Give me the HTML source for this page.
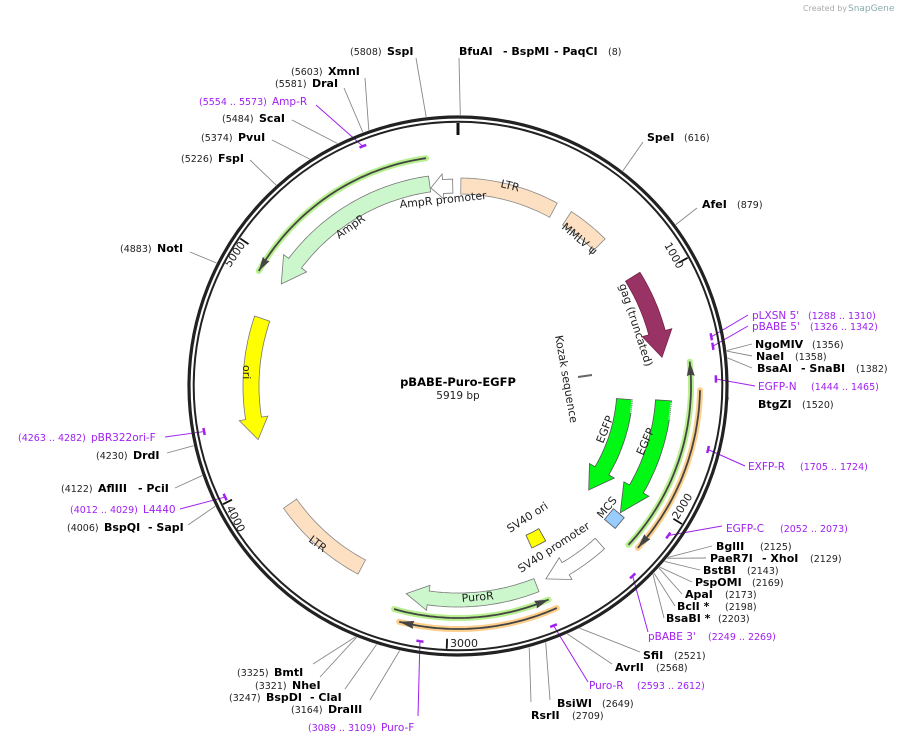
<!DOCTYPE html>
<html><head><meta charset="utf-8"><style>
html,body{margin:0;padding:0;background:#fff;width:901px;height:743px;overflow:hidden}
svg{display:block}
text{font-family:"DejaVu Sans","Liberation Sans",sans-serif;font-size:10px;fill:#222}
.b{font-weight:bold;font-size:11px;fill:#000}
.n{font-size:9.5px;fill:#222}
.p{fill:#a020f0;font-size:10.5px}
.pn{fill:#a020f0;font-size:9.5px}
.f{font-size:11px;fill:#222}
</style></head><body>
<svg id="s" width="901" height="743" viewBox="0 0 901 743" xmlns="http://www.w3.org/2000/svg">
<g id="shapes"></g>
<text x="803" y="11" style="font-size:8px;fill:#aaa">Created by</text><text x="848" y="11" style="font-size:9px;fill:#8aa">SnapGene</text>
<text x="458" y="386" text-anchor="middle" style="font-weight:bold;font-size:11.5px;fill:#000">pBABE-Puro-EGFP</text>
<text x="458" y="399" text-anchor="middle" style="font-size:10.5px">5919 bp</text>

<text x="350" y="55" class="n">(5808)</text><text x="387" y="55" class="b">SspI</text>
<text x="459" y="55" class="b">BfuAI</text><text x="503" y="55" class="b">- BspMI</text><text x="554" y="55" class="b">- PaqCI</text><text x="608" y="55" class="n">(8)</text>
<text x="291" y="75" class="n">(5603)</text><text x="328" y="75" class="b">XmnI</text>
<text x="275" y="87" class="n">(5581)</text><text x="312" y="87" class="b">DraI</text>
<text x="199" y="105" class="pn">(5554 .. 5573)</text><text x="272" y="105" class="p">Amp-R</text>
<text x="222" y="122" class="n">(5484)</text><text x="259" y="122" class="b">ScaI</text>
<text x="201" y="141" class="n">(5374)</text><text x="238" y="141" class="b">PvuI</text>
<text x="181" y="162" class="n">(5226)</text><text x="218" y="162" class="b">FspI</text>
<text x="120" y="252" class="n">(4883)</text><text x="157" y="252" class="b">NotI</text>
<text x="647" y="141" class="b">SpeI</text><text x="684" y="141" class="n">(616)</text>
<text x="702" y="208" class="b">AfeI</text><text x="737" y="208" class="n">(879)</text>
<text x="752" y="319" class="p">pLXSN 5'</text><text x="808" y="319" class="pn">(1288 .. 1310)</text>
<text x="752" y="330" class="p">pBABE 5'</text><text x="810" y="330" class="pn">(1326 .. 1342)</text>
<text x="755" y="348" class="b">NgoMIV</text><text x="812" y="348" class="n">(1356)</text>
<text x="756" y="360" class="b">NaeI</text><text x="795" y="360" class="n">(1358)</text>
<text x="757" y="372" class="b">BsaAI</text><text x="801" y="372" class="b">- SnaBI</text><text x="856" y="372" class="n">(1382)</text>
<text x="758" y="390" class="p">EGFP-N</text><text x="811" y="390" class="pn">(1444 .. 1465)</text>
<text x="758" y="408" class="b">BtgZI</text><text x="802" y="408" class="n">(1520)</text>
<text x="748" y="470" class="p">EXFP-R</text><text x="800" y="470" class="pn">(1705 .. 1724)</text>
<text x="726" y="532" class="p">EGFP-C</text><text x="780" y="532" class="pn">(2052 .. 2073)</text>
<text x="716" y="550" class="b">BglII</text><text x="760" y="550" class="n">(2125)</text>
<text x="710" y="562" class="b">PaeR7I</text><text x="762" y="562" class="b">- XhoI</text><text x="810" y="562" class="n">(2129)</text>
<text x="703" y="574" class="b">BstBI</text><text x="747" y="574" class="n">(2143)</text>
<text x="695" y="586" class="b">PspOMI</text><text x="752" y="586" class="n">(2169)</text>
<text x="685" y="598" class="b">ApaI</text><text x="725" y="598" class="n">(2173)</text>
<text x="677" y="610" class="b">BclI *</text><text x="725" y="610" class="n">(2198)</text>
<text x="666" y="622" class="b">BsaBI *</text><text x="718" y="622" class="n">(2203)</text>
<text x="648" y="640" class="p">pBABE 3'</text><text x="708" y="640" class="pn">(2249 .. 2269)</text>
<text x="643" y="659" class="b">SfiI</text><text x="674" y="659" class="n">(2521)</text>
<text x="615" y="671" class="b">AvrII</text><text x="656" y="671" class="n">(2568)</text>
<text x="589" y="689" class="p">Puro-R</text><text x="637" y="689" class="pn">(2593 .. 2612)</text>
<text x="557" y="707" class="b">BsiWI</text><text x="602" y="707" class="n">(2649)</text>
<text x="531" y="719" class="b">RsrII</text><text x="572" y="719" class="n">(2709)</text>
<text x="237" y="676" class="n">(3325)</text><text x="274" y="676" class="b">BmtI</text>
<text x="255" y="689" class="n">(3321)</text><text x="292" y="689" class="b">NheI</text>
<text x="229" y="701" class="n">(3247)</text><text x="266" y="701" class="b">BspDI</text><text x="310" y="701" class="b">- ClaI</text>
<text x="291" y="713" class="n">(3164)</text><text x="328" y="713" class="b">DraIII</text>
<text x="308" y="731" class="pn">(3089 .. 3109)</text><text x="381" y="731" class="p">Puro-F</text>
<text x="18" y="441" class="pn">(4263 .. 4282)</text><text x="91" y="441" class="p">pBR322ori-F</text>
<text x="96" y="459" class="n">(4230)</text><text x="133" y="459" class="b">DrdI</text>
<text x="61" y="492" class="n">(4122)</text><text x="98" y="492" class="b">AflIII</text><text x="138" y="492" class="b">- PciI</text>
<text x="70" y="513" class="pn">(4012 .. 4029)</text><text x="143" y="513" class="p">L4440</text>
<text x="67" y="531" class="n">(4006)</text><text x="104" y="531" class="b">BspQI</text><text x="148" y="531" class="b">- SapI</text>

<text class="f" transform="translate(500,187) rotate(14)">LTR</text>
<text class="f" transform="translate(561,228) rotate(40)">MMLV ψ</text>
<text class="f" transform="translate(619,285) rotate(72)">gag (truncated)</text>
<text class="f" transform="translate(555,336) rotate(80)">Kozak sequence</text>
<text class="f" transform="translate(603,444) rotate(-68)">EGFP</text>
<text class="f" transform="translate(643,456) rotate(-66)">EGFP</text>
<text class="f" transform="translate(602,519) rotate(-50)">MCS</text>
<text class="f" transform="translate(510,533) rotate(-33)">SV40 ori</text>
<text class="f" transform="translate(521,573) rotate(-33)">SV40 promoter</text>
<text class="f" transform="translate(462,602) rotate(-5)">PuroR</text>
<text class="f" transform="translate(308,541) rotate(37)">LTR</text>
<text class="f" transform="translate(243,365) rotate(90)">ori</text>
<text class="f" transform="translate(339,239) rotate(-35)">AmpR</text>
<text class="f" transform="translate(400,208) rotate(-6)">AmpR promoter</text>
<text class="f" transform="translate(664,245) rotate(61)">1000</text>
<text class="f" transform="translate(678,520) rotate(-58)">2000</text>
<text class="f" x="450" y="647">3000</text>
<text class="f" transform="translate(226,508) rotate(63)">4000</text>
<text class="f" transform="translate(230,268) rotate(-56)">5000</text>
</svg>
<script>
var NS="http://www.w3.org/2000/svg",G=document.getElementById("shapes"),CX=458,CY=386,L=5919;
function P(r,d){var t=d*Math.PI/180;return [CX+r*Math.sin(t),CY-r*Math.cos(t)];}
function el(n,a){var e=document.createElementNS(NS,n);for(var k in a)e.setAttribute(k,a[k]);G.appendChild(e);return e;}
function arc(r,a1,a2){var s=[],n=Math.max(2,Math.ceil(Math.abs(a2-a1)));for(var i=0;i<=n;i++){s.push(P(r,a1+(a2-a1)*i/n));}return s;}
function pts(a){return a.map(function(p){return p[0].toFixed(1)+","+p[1].toFixed(1)}).join(" ");}
function feat(r,w,a1,a2,h,fill,stroke){var sg=a2>a1?1:-1,a3=h?a2-sg*h:a2;
 var o=arc(r+w/2,a1,a3),i=arc(r-w/2,a3,a1),p=o.slice();
 if(h){p.push(P(r+w*0.9,a3));p.push(P(r,a2));p.push(P(r-w*0.9,a3));}
 p=p.concat(i);el("polygon",{points:pts(p),fill:fill,stroke:stroke||"#777","stroke-width":0.8});}
function line(r,a1,a2,glow){var a=arc(r,a1,a2);
 el("polyline",{points:pts(a),fill:"none",stroke:glow,"stroke-width":6,"stroke-linecap":"round"});
 el("polyline",{points:pts(a),fill:"none",stroke:"#444","stroke-width":1.8});
 var sg=a2>a1?1:-1,b=P(r,a2-sg*3.2),l=P(r+4,a2-sg*3.5),q=P(r-4,a2-sg*3.5),t=P(r,a2);
 el("polygon",{points:pts([l,t,q,b]),fill:"#444"});}
function ang(bp){return bp/L*360;}
var C=[[5808,416,58],[8,459,58],[5603,365,78],[5581,344,88],[5484,292,120],[5374,272,140],[5226,250,160],[4883,190,252],
[616,643,142],[879,697,208],[1356,752,344],[1358,752,356],[1382,752,368],[1520,727,402],
[2125,712,546],[2129,706,558],[2143,700,570],[2169,692,582],[2173,682,594],[2198,675,606],[2203,664,618],
[2521,640,652],[2568,612,664],[2649,550,700],[2709,531,702],[3325,313,664],[3321,320,677],[3247,345,689],[3164,370,700],
[4230,167,453],[4122,175,488],[4006,188,525]];
C.forEach(function(c){var s=P(271,ang(c[0]));el("line",{x1:s[0],y1:s[1],x2:c[1],y2:c[2],stroke:"#888","stroke-width":0.9});});
var PR=[[5563,316,105],[1299,748,315],[1334,748,326],[1454,755,386],[1714,745,466],[2062,722,526],[2259,648,632],[2602,588,682],[3099,418,716],[4272,165,437],[4020,180,509]];
PR.forEach(function(c){var a=ang(c[0]),s=P(258,a);
 var m=arc(258,a-0.8,a+0.8);el("polyline",{points:pts(m),fill:"none",stroke:"#a020f0","stroke-width":2.5});
 el("line",{x1:s[0],y1:s[1],x2:c[1],y2:c[2],stroke:"#a020f0","stroke-width":1});});
el("circle",{cx:CX,cy:CY,r:269,fill:"none",stroke:"#222","stroke-width":3.2});
el("circle",{cx:CX,cy:CY,r:264.3,fill:"none",stroke:"#222","stroke-width":2});
var t0a=P(263,0),t0b=P(251,0);el("line",{x1:t0a[0],y1:t0a[1],x2:t0b[0],y2:t0b[1],stroke:"#111","stroke-width":3});
[1000,2000,3000,4000,5000].forEach(function(b){var a=ang(b),p=P(263,a),q=P(253,a);el("line",{x1:p[0],y1:p[1],x2:q[0],y2:q[1],stroke:"#111","stroke-width":1.8});});
var PE="#fde0c2";
feat(200,16,0.8,28.5,0,PE,"#888");
feat(200,16,33,45,0,PE,"#888");
feat(206,17,58,82,7,"#993366","#772244");
feat(206,16,94,128,8,"#00f814","#555");
feat(167,16,94.5,128.5,8,"#00f814","#555");
feat(200,14,358.5,352.2,3.5,"#fff","#777");
feat(204,16,352,300,7,"#ccf7cc","#777");
feat(207,16,289,255,6,"#ffff00","#777");
feat(205,16,208,235,0,PE,"#888");
feat(212,14,138,155.5,6,"#fff","#777");
feat(214,14,158.5,194,6,"#ccf7cc","#777");
feat(171,14,150.5,155.5,0,"#ffff00","#555");
var m=P(205,130.3);el("rect",{x:m[0]-7,y:m[1]-7,width:14,height:14,fill:"#99ccff",stroke:"#555","stroke-width":0.8,transform:"rotate(40 "+m[0]+" "+m[1]+")"});
el("line",{x1:578,y1:377,x2:592,y2:375,stroke:"#666","stroke-width":2});
[[P(214,94.5),P(214,99)],[P(175,94.5),P(175,99)]].forEach(function(d){el("line",{x1:d[0][0],y1:d[0][1],x2:d[1][0],y2:d[1][1],stroke:"#fff","stroke-width":2,"stroke-dasharray":"1 1"});});
line(230,352,300,"#b8f090");
line(233,133,84,"#b8f090");
line(242,91,132,"#fcd08c");
line(232,196,157,"#b8f090");
line(243,156,194,"#fcd08c");
</script>
</body></html>
